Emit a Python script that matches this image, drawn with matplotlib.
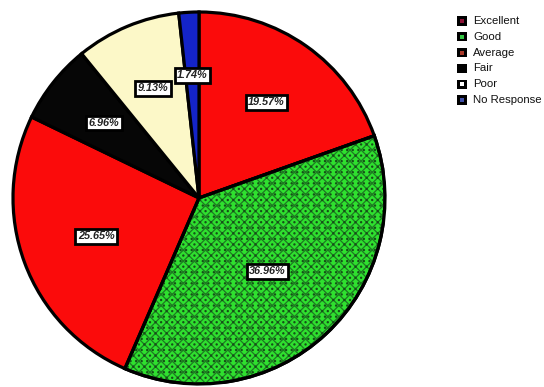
import matplotlib
matplotlib.use("Agg")
import matplotlib.pyplot as plt
from matplotlib.patches import Rectangle, Wedge
import numpy as np

plt.rcParams["font.family"] = ["Liberation Sans", "DejaVu Sans"]
plt.rcParams["hatch.linewidth"] = 0.9

# Survey ratings
categories = ["Excellent", "Good", "Average", "Fair", "Poor", "No Response"]
shares = [19.57, 36.96, 25.65, 6.96, 9.13, 1.74]
pct_labels = ["19.57%", "36.96%", "25.65%", "6.96%", "9.13%", "1.74%"]

# Styling
face_colors = ["#fb0b0b", "#2fe02f", "#fb0b0b", "#060606", "#fcf8c8", "#1424c8"]
legend_inner = ["#8c1236", "#35c845", "#a83828", "#000000", "#ffffff", "#4050a8"]
label_radius = [0.63, 0.54, 0.59, 0.65, 0.64, 0.66]

W, H = 544, 387
fig = plt.figure(figsize=(W / 100, H / 100), dpi=100)

cx, cy, r = 199, 198, 186
ax = fig.add_axes([(cx - r) / W, (H - cy - r) / H, 2 * r / W, 2 * r / H])

wedges, _ = ax.pie(
    shares,
    colors=face_colors,
    startangle=90,
    counterclock=False,
    radius=1.0,
    wedgeprops=dict(edgecolor="black", linewidth=2.3),
)

# speckled texture on the "Good" slice
g = wedges[1]
ax.add_patch(Wedge(g.center, g.r, g.theta1, g.theta2, facecolor="none",
                   edgecolor="#1e7a22", hatch="xxx", linewidth=0, zorder=2))
ax.add_patch(Wedge(g.center, g.r, g.theta1, g.theta2, facecolor="none",
                   edgecolor="#164f18", hatch="...", linewidth=0, zorder=2))
ax.add_patch(Wedge(g.center, g.r, g.theta1, g.theta2, facecolor="none",
                   edgecolor="black", linewidth=2.3, zorder=3))

# percentage labels in boxed frames
for w, txt, rr in zip(wedges, pct_labels, label_radius):
    mid = np.deg2rad((w.theta1 + w.theta2) / 2)
    ax.text(rr * np.cos(mid), rr * np.sin(mid), txt,
            ha="center", va="center", fontsize=7.8, fontweight="bold",
            fontstyle="italic", color="#222222", zorder=5,
            bbox=dict(boxstyle="square,pad=0.22", facecolor="white",
                      edgecolor="black", linewidth=2.0))

ax.set_xlim(-1.0, 1.0)
ax.set_ylim(-1.0, 1.0)
ax.set_aspect("equal")
ax.axis("off")

# legend
row0, step = 21, 15.8
for i, (name, inner) in enumerate(zip(categories, legend_inner)):
    yc = row0 + i * step
    fig.add_artist(Rectangle((457 / W, (H - yc - 4.5) / H), 10 / W, 9 / H,
                             transform=fig.transFigure, facecolor="black",
                             edgecolor="black", linewidth=0))
    fig.add_artist(Rectangle((460 / W, (H - yc - 2) / H), 4 / W, 4 / H,
                             transform=fig.transFigure, facecolor=inner,
                             edgecolor="none", linewidth=0))
    fig.text(473 / W, (H - yc) / H, name, ha="left", va="center",
             fontsize=8.2, color="#111111")

fig.savefig("out.png", dpi=100)
